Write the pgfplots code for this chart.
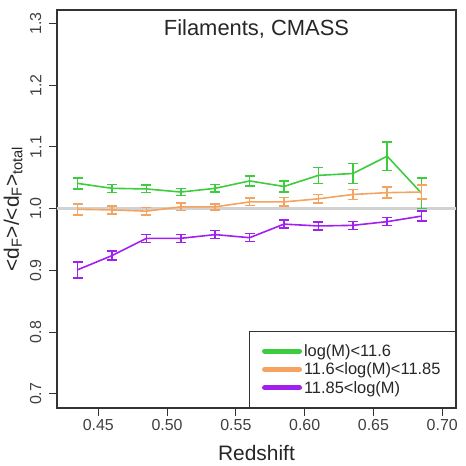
\documentclass[border=0pt]{standalone}
\usepackage{fontspec}
\setmainfont{Liberation Sans}
\usepackage{pgfplots}
\usepackage{pgfplotstable}
\pgfplotsset{compat=1.18}
\definecolor{cgreen}{HTML}{3DCC3D}
\definecolor{corange}{HTML}{F4A460}
\definecolor{cpurple}{HTML}{A020F0}
\definecolor{frame}{HTML}{333333}
\pgfplotstableread{
x y e
0.435 1.041 0.009
0.460 1.033 0.0065
0.485 1.032 0.006
0.510 1.027 0.006
0.535 1.033 0.006
0.560 1.045 0.008
0.585 1.036 0.0087
0.610 1.054 0.013
0.635 1.057 0.016
0.660 1.085 0.023
0.685 1.025 0.025
}\greendata
\pgfplotstableread{
x y e
0.435 0.999 0.009
0.460 0.998 0.0065
0.485 0.996 0.006
0.510 1.003 0.006
0.535 1.003 0.005
0.560 1.011 0.006
0.585 1.011 0.007
0.610 1.016 0.007
0.635 1.023 0.008
0.660 1.026 0.009
0.685 1.027 0.011
}\orangedata
\pgfplotstableread{
x y e
0.435 0.901 0.013
0.460 0.924 0.0075
0.485 0.952 0.0065
0.510 0.952 0.0065
0.535 0.958 0.0065
0.560 0.953 0.0065
0.585 0.975 0.0065
0.610 0.972 0.0065
0.635 0.973 0.0065
0.660 0.979 0.0065
0.685 0.988 0.008
}\purpledata
\begin{document}
\begin{tikzpicture}
\begin{axis}[
  scale only axis, width=399bp, height=398bp,
  xmin=0.420, xmax=0.710, ymin=0.677, ymax=1.322,
  xtick={0.45,0.50,0.55,0.60,0.65,0.70},
  xticklabels={0.45,0.50,0.55,0.60,0.65,0.70},
  ytick={0.7,0.8,0.9,1.0,1.1,1.2,1.3},
  yticklabels={0.7,0.8,0.9,1.0,1.1,1.2,1.3},
  tick align=outside, tick pos=left, major tick length=8bp,
  axis line style={frame, line width=1.2bp},
  major tick style={frame, line width=1bp},
  ticklabel style={font=\fontsize{16}{18}\selectfont, color=black!75},
  yticklabel style={rotate=90, anchor=south, inner sep=7.5bp},
  xlabel={Redshift},
  ylabel={<d\textsubscript{F}>/<d\textsubscript{F}>\textsubscript{total}},
  label style={font=\fontsize{21}{24}\selectfont, color=black!85},
  xlabel style={at={(axis description cs:0.5,-0.133)}, anchor=base},
  ylabel style={at={(axis description cs:-0.11,0.5)}, anchor=center},
  title={Filaments, CMASS},
  title style={at={(axis description cs:0.5,0.92)}, anchor=base, font=\fontsize{22}{24}\selectfont, color=black!85},
  legend style={at={(axis description cs:1,0)}, anchor=south east, draw=frame, line width=1bp,
    font=\fontsize{16.5}{19.5}\selectfont, inner xsep=13bp, inner ysep=11bp, row sep=1bp,
    text=black!85},
  legend cell align=left,
  legend image code/.code={\draw[#1, line width=5bp, line cap=round] (0bp,0bp) -- (35bp,0bp);},
  every error bar/.style={line width=1.5bp},
]
\addplot[gray!35, line width=3bp, forget plot] coordinates {(0.42,1.0) (0.71,1.0)};
\addplot[draw=cgreen, color=cgreen, line width=1.6bp, mark=none,
  error bars/y dir=both, error bars/y explicit,
  error bars/error mark options={rotate=90, mark size=5bp, line width=1.5bp, draw=cgreen}]
  table[x=x, y=y, y error=e] {\greendata};
\addplot[draw=corange, color=corange, line width=1.6bp, mark=none,
  error bars/y dir=both, error bars/y explicit,
  error bars/error mark options={rotate=90, mark size=5bp, line width=1.5bp, draw=corange}]
  table[x=x, y=y, y error=e] {\orangedata};
\addplot[draw=cpurple, color=cpurple, line width=1.6bp, mark=none,
  error bars/y dir=both, error bars/y explicit,
  error bars/error mark options={rotate=90, mark size=5bp, line width=1.5bp, draw=cpurple}]
  table[x=x, y=y, y error=e] {\purpledata};
\legend{log(M)<11.6, 11.6<log(M)<11.85, 11.85<log(M)}
\end{axis}
\pgfresetboundingbox
\path ([shift={(-57bp,-58bp)}]current axis.south west) rectangle ([shift={(10bp,10bp)}]current axis.north east);
\end{tikzpicture}
\end{document}
